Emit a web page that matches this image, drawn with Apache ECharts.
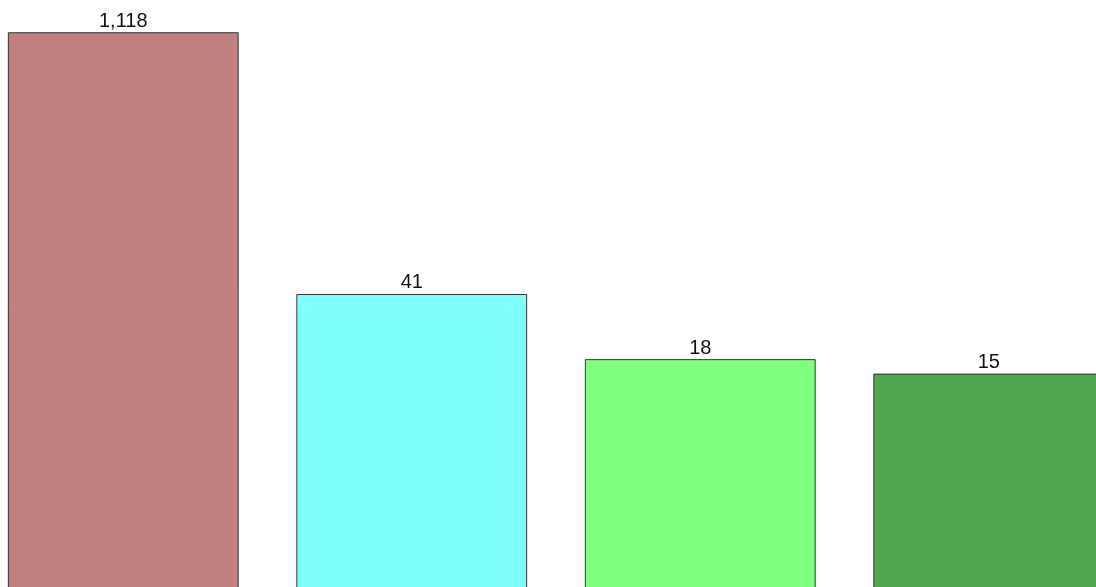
<!DOCTYPE html>
<html>
<head>
<meta charset="utf-8">
<style>html,body{margin:0;padding:0;background:#fff;overflow:hidden;width:1096px;height:587px;position:relative;}#chart{position:absolute;left:-21px;top:0;width:1154px;height:588px;}</style>
<script src="https://cdn.jsdelivr.net/npm/echarts@6/dist/echarts.min.js"></script>
</head>
<body>
<div id="chart"></div>
<script>
const categories = ['A', 'B', 'C', 'D'];
const values = [1118, 41, 18, 15];
const colors = ['#C08080', '#80FFFF', '#80FF80', '#4EA64E'];

const chart = echarts.init(document.getElementById('chart'), null, {renderer: 'canvas'});
chart.setOption({
  animation: false,
  backgroundColor: '#ffffff',
  grid: {left: 0, right: 0, top: 0, bottom: 0, containLabel: false},
  xAxis: {type: 'category', data: categories, show: false},
  yAxis: {type: 'log', logBase: 10, min: 1, max: 1680, show: false},
  series: [{
    type: 'bar',
    barCategoryGap: '20%',
    data: values.map((v, i) => ({value: v, itemStyle: {color: colors[i]}})),
    itemStyle: {borderColor: '#333333', borderWidth: 1},
    label: {
      show: true, position: 'top', distance: 1,
      fontFamily: 'Liberation Sans, Arial, sans-serif', fontSize: 20, color: '#111111',
      formatter: p => p.value.toLocaleString('en-US')
    }
  }]
});
</script>
</body>
</html>
